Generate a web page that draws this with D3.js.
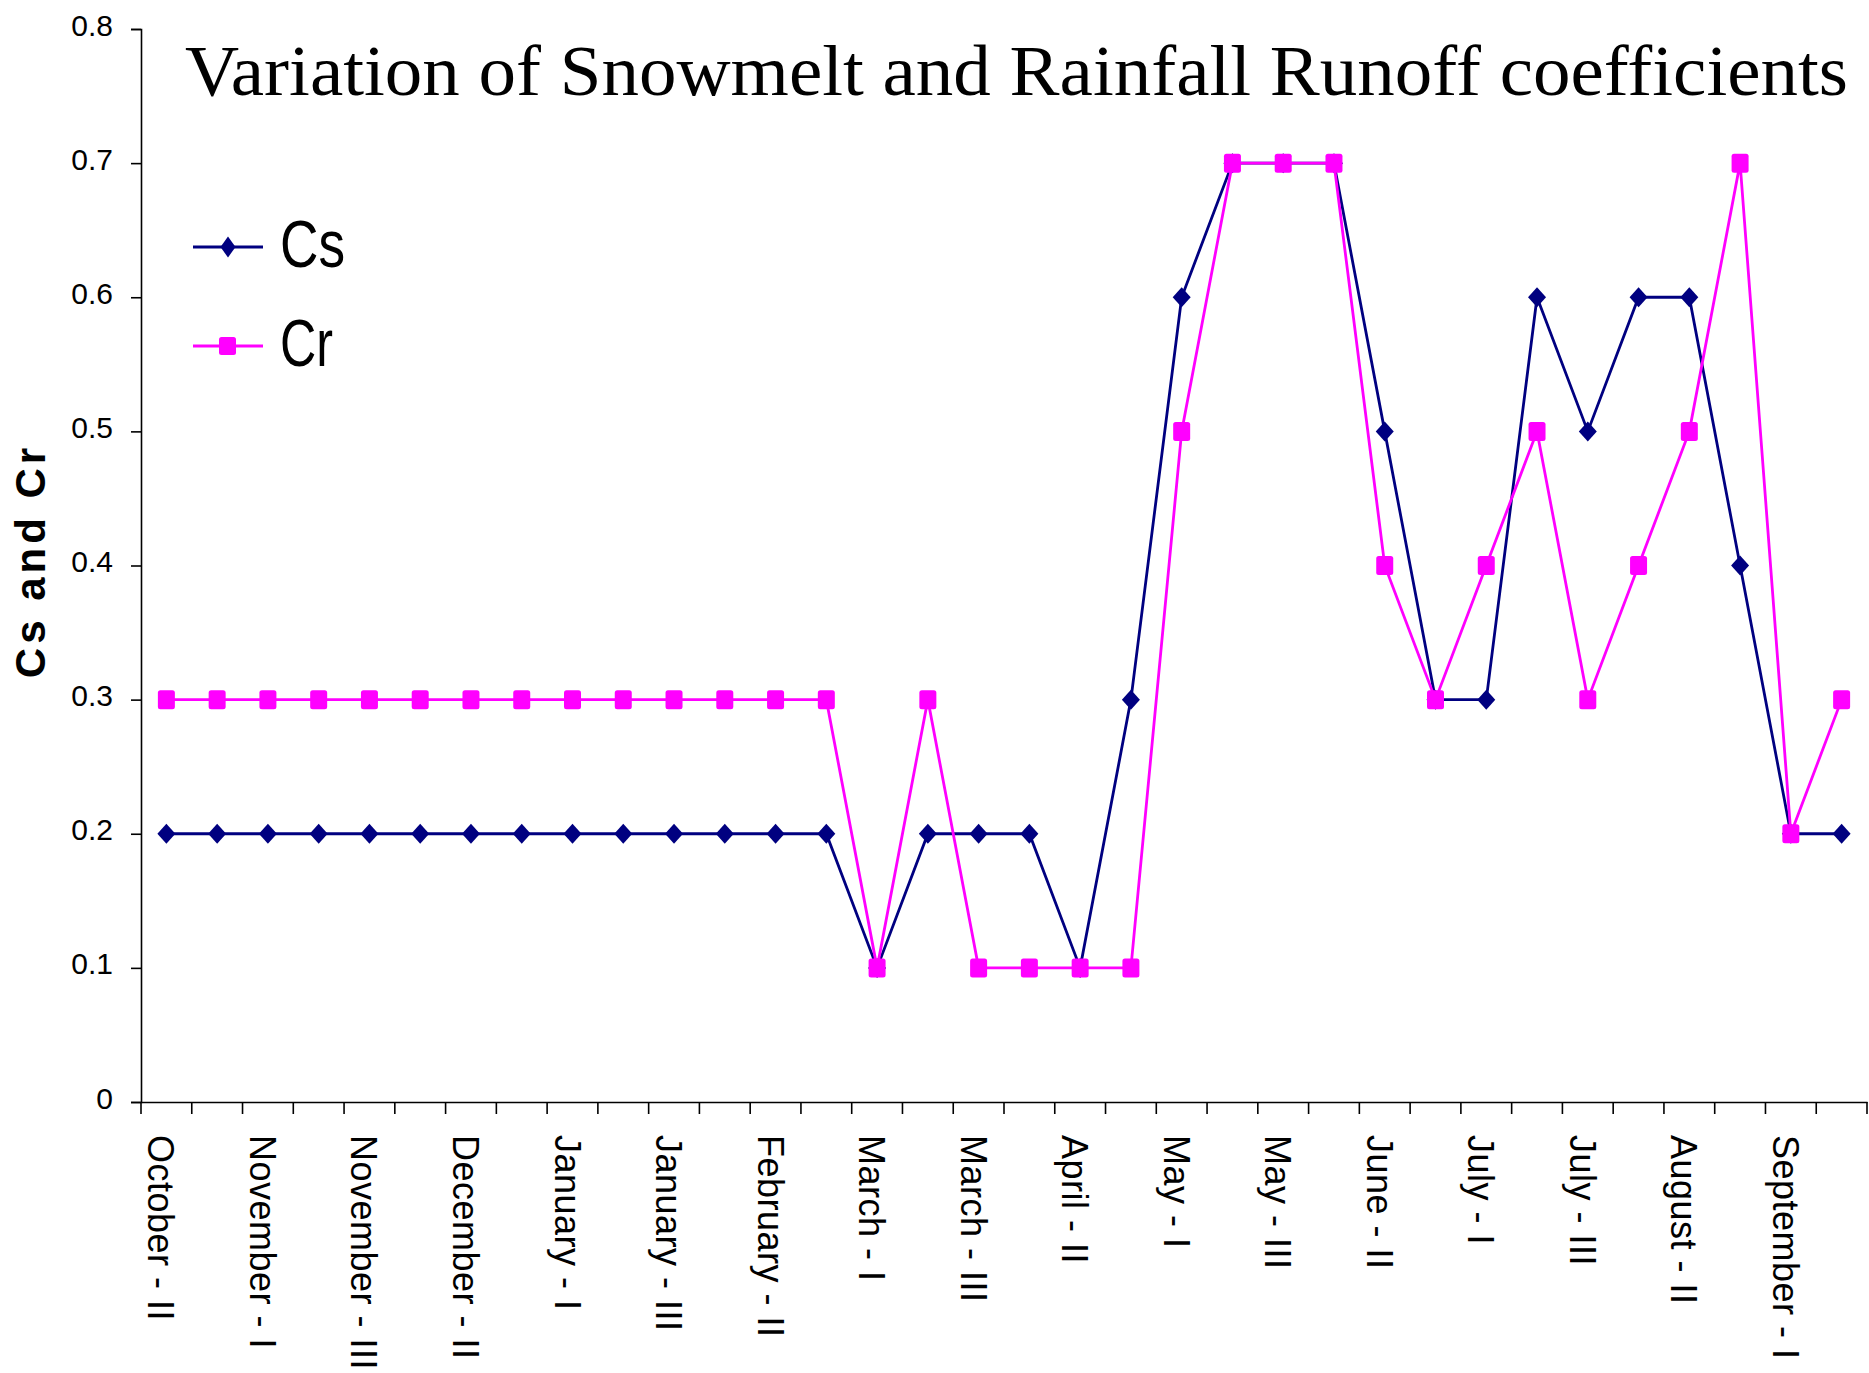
<!DOCTYPE html>
<html>
<head>
<meta charset="utf-8">
<script src="https://cdn.jsdelivr.net/npm/d3@7"></script>
<style>
  html, body { margin: 0; padding: 0; background: #fff; }
  svg { display: block; }
</style>
</head>
<body>
<svg id="chart" width="1869" height="1373"></svg>
<script>
const categories = [
  "October - II","October - III","November - I","November - II","November - III",
  "December - I","December - II","December - III","January - I","January - II",
  "January - III","February - I","February - II","February - III","March - I",
  "March - II","March - III","April - I","April - II","April - III",
  "May - I","May - II","May - III","June - I","June - II","June - III",
  "July - I","July - II","July - III","August - I","August - II","August - III",
  "September - I","September - II"
];
const csValues = [0.2,0.2,0.2,0.2,0.2,0.2,0.2,0.2,0.2,0.2,0.2,0.2,0.2,0.2,
  0.1,0.2,0.2,0.2,0.1,0.3,0.6,0.7,0.7,0.7,0.5,0.3,0.3,0.6,0.5,0.6,0.6,0.4,0.2,0.2];
const crValues = [0.3,0.3,0.3,0.3,0.3,0.3,0.3,0.3,0.3,0.3,0.3,0.3,0.3,0.3,
  0.1,0.3,0.1,0.1,0.1,0.1,0.5,0.7,0.7,0.7,0.4,0.3,0.4,0.5,0.3,0.4,0.5,0.7,0.2,0.3];
const yTicks = [0,0.1,0.2,0.3,0.4,0.5,0.6,0.7,0.8];
const seriesNames = ["Cs","Cr"];
const titleText = "Variation of Snowmelt and Rainfall Runoff coefficients";
const yTitle = "Cs and Cr";

const svg = d3.select("#chart");
const sans = "'Liberation Sans', Arial, sans-serif";
const serif = "'Liberation Serif', 'Times New Roman', serif";

const x = d3.scaleBand().domain(categories).range([141, 1867]).padding(0);
const y = d3.scaleLinear().domain([0, 0.8]).range([1102, 29]);
const cx = d => x(d) + x.bandwidth() / 2;

// Y axis
const yAxis = svg.append("g").attr("transform", "translate(141,0)")
  .call(d3.axisLeft(y).tickValues(yTicks).tickSize(10).tickPadding(18)
    .tickFormat(d => d === 0 ? "0" : d.toFixed(1)));
yAxis.select(".domain").attr("stroke", "#000").attr("stroke-width", 1.6);
yAxis.selectAll(".tick line").attr("stroke", "#000").attr("stroke-width", 1.6);
yAxis.selectAll(".tick text").attr("font-family", sans).attr("font-size", 30)
  .attr("fill", "#000").attr("dy", "0.2em");

// X axis
const xAxis = svg.append("g").attr("transform", "translate(0,1102)")
  .call(d3.axisBottom(x).tickSize(0).tickFormat(""));
xAxis.select(".domain").attr("stroke", "#000").attr("stroke-width", 1.6);
xAxis.selectAll(".tick").remove();
const boundaries = d3.range(categories.length + 1).map(i => 141 + i * x.step());
xAxis.selectAll("line.bt").data(boundaries).join("line")
  .attr("class", "bt")
  .attr("x1", d => d).attr("x2", d => d).attr("y1", 0).attr("y2", 12)
  .attr("stroke", "#000").attr("stroke-width", 1.6);
svg.append("g").selectAll("text").data(categories.filter((c, i) => i % 2 === 0)).join("text")
  .attr("transform", d => `translate(${cx(d) - 18},1135) rotate(90)`)
  .attr("font-family", sans).attr("font-size", 36).attr("letter-spacing", 0.5)
  .attr("fill", "#000").attr("text-anchor", "start")
  .text(d => d);

// Y title
svg.append("text")
  .attr("transform", "translate(45,561) rotate(-90)")
  .attr("font-family", sans).attr("font-weight", "bold").attr("font-size", 42)
  .attr("letter-spacing", 4).attr("text-anchor", "middle").attr("fill", "#000")
  .text(yTitle);

// Title
svg.append("text")
  .attr("x", 185).attr("y", 95)
  .attr("font-family", serif).attr("font-size", 72).attr("fill", "#000")
  .attr("textLength", 1663).attr("lengthAdjust", "spacingAndGlyphs")
  .text(titleText);

const navy = "#000080", magenta = "#FF00FF";
const line = d3.line().x((d, i) => cx(categories[i])).y(d => y(d));
const diamond = "M0,-10L9,0L0,10L-9,0Z";

// Cs series
svg.append("path").datum(csValues).attr("d", line)
  .attr("fill", "none").attr("stroke", navy).attr("stroke-width", 2.8);
svg.append("g").selectAll("path").data(csValues).join("path")
  .attr("transform", (d, i) => `translate(${cx(categories[i])},${y(d)})`)
  .attr("d", diamond).attr("fill", navy);

// Cr series
svg.append("path").datum(crValues).attr("d", line)
  .attr("fill", "none").attr("stroke", magenta).attr("stroke-width", 2.8);
svg.append("g").selectAll("rect").data(crValues).join("rect")
  .attr("x", (d, i) => cx(categories[i]) - 8.5).attr("y", d => y(d) - 9.5)
  .attr("width", 17).attr("height", 19).attr("rx", 2.5).attr("fill", magenta);

// Legend
const legend = svg.append("g");
const legY = [247, 346];
seriesNames.forEach((name, k) => {
  const col = k === 0 ? navy : magenta;
  legend.append("line").attr("x1", 193).attr("x2", 263)
    .attr("y1", legY[k]).attr("y2", legY[k]).attr("stroke", col).attr("stroke-width", 2.8);
  if (k === 0) {
    legend.append("path").attr("transform", `translate(228,${legY[k]})`)
      .attr("d", "M0,-10.5L7.5,0L0,10.5L-7.5,0Z").attr("fill", col);
  } else {
    legend.append("rect").attr("x", 219).attr("y", legY[k] - 9)
      .attr("width", 17).attr("height", 18).attr("rx", 2.5).attr("fill", col);
  }
  legend.append("text").attr("x", 280).attr("y", legY[k] + 20)
    .attr("font-family", sans).attr("font-size", 67).attr("fill", "#000")
    .attr("textLength", k === 0 ? 65 : 53).attr("lengthAdjust", "spacingAndGlyphs")
    .text(name);
});
</script>
</body>
</html>
